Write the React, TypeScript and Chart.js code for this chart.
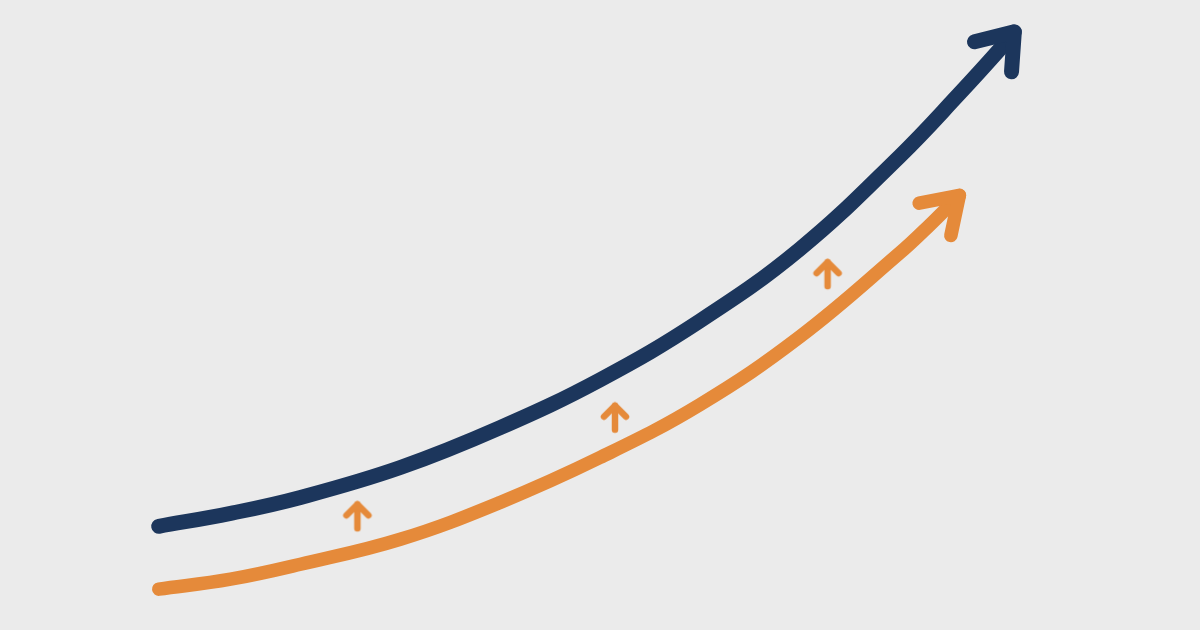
import React, { useEffect, useRef } from "react";
import { Chart, registerables } from "chart.js";

Chart.register(...registerables);

// Upper (navy) growth curve
const upperX = [158, 230, 300, 400, 500, 600, 700, 800, 900, 960, 1000, 1015];
const upperY = [103, 116, 132, 162, 202, 250, 309, 381, 474, 537, 581, 599];

// Lower (orange) growth curve
const lowerX = [158, 230, 300, 400, 500, 600, 700, 800, 900, 930, 960];
const lowerY = [40, 50, 65, 90, 127, 172, 225, 293, 377, 405, 435];

// Small "increase" markers between the curves
const markerX = [357, 615, 828];
const markerY = [113, 212, 356];

const NAVY = "#1c365c";
const ORANGE = "#e58a3a";
const BG = "#ebebeb";

const W = 1200;
const H = 630;

function makeUpArrow(color: string): HTMLCanvasElement {
  const c = document.createElement("canvas");
  c.width = 36;
  c.height = 36;
  const g = c.getContext("2d")!;
  g.strokeStyle = color;
  g.lineWidth = 6.5;
  g.lineCap = "round";
  g.lineJoin = "round";
  g.beginPath();
  g.moveTo(18, 30);
  g.lineTo(18, 6);
  g.stroke();
  g.beginPath();
  g.moveTo(7, 17);
  g.lineTo(18, 6);
  g.lineTo(29, 17);
  g.stroke();
  return c;
}

const arrowHeadPlugin = {
  id: "arrowHead",
  afterDatasetsDraw(chart: any) {
    const ctx = chart.ctx;
    chart.data.datasets.forEach((ds: any, i: number) => {
      if (!ds.arrowHead) return;
      const meta = chart.getDatasetMeta(i);
      const pts = meta.data;
      if (!pts.length) return;
      const tip = pts[pts.length - 1];
      const h = ds.arrowHead;
      const a1 = (h.angle1 * Math.PI) / 180;
      const a2 = (h.angle2 * Math.PI) / 180;
      ctx.save();
      ctx.strokeStyle = ds.borderColor;
      ctx.lineWidth = ds.borderWidth;
      ctx.lineCap = "round";
      ctx.lineJoin = "round";
      ctx.beginPath();
      ctx.moveTo(tip.x + h.len1 * Math.cos(a1), tip.y + h.len1 * Math.sin(a1));
      ctx.lineTo(tip.x, tip.y);
      ctx.lineTo(tip.x + h.len2 * Math.cos(a2), tip.y + h.len2 * Math.sin(a2));
      ctx.stroke();
      ctx.restore();
    });
  },
};

export default function App() {
  const ref = useRef<HTMLCanvasElement | null>(null);

  useEffect(() => {
    if (!ref.current) return;
    const marker = makeUpArrow(ORANGE);
    const chart = new Chart(ref.current, {
      type: "line",
      data: {
        datasets: [
          {
            label: "Upper",
            data: upperX.map((x, i) => ({ x, y: upperY[i] })),
            borderColor: NAVY,
            borderWidth: 15,
            borderCapStyle: "round",
            borderJoinStyle: "round",
            tension: 0.4,
            pointRadius: 0,
            fill: false,
            clip: false,
            arrowHead: { angle1: 166, len1: 41, angle2: 94, len2: 40 },
          } as any,
          {
            label: "Lower",
            data: lowerX.map((x, i) => ({ x, y: lowerY[i] })),
            borderColor: ORANGE,
            borderWidth: 13.5,
            borderCapStyle: "round",
            borderJoinStyle: "round",
            tension: 0.4,
            pointRadius: 0,
            fill: false,
            clip: false,
            arrowHead: { angle1: 169, len1: 41, angle2: 102, len2: 41 },
          } as any,
          {
            label: "Markers",
            data: markerX.map((x, i) => ({ x, y: markerY[i] })),
            showLine: false,
            pointStyle: marker,
            pointRadius: 1,
            pointBorderWidth: 0,
            pointHoverRadius: 1,
            borderWidth: 0,
            borderColor: ORANGE,
            backgroundColor: ORANGE,
            clip: false,
          } as any,
        ],
      },
      options: {
        animation: false,
        responsive: false,
        devicePixelRatio: 1,
        layout: { padding: 0 },
        scales: {
          x: { type: "linear", min: 0, max: W, display: false },
          y: { type: "linear", min: 0, max: H, display: false },
        },
        plugins: {
          legend: { display: false },
          tooltip: { enabled: false },
        },
        events: [],
      },
      plugins: [arrowHeadPlugin],
    });
    return () => chart.destroy();
  }, []);

  return (
    <div
      style={{
        position: "fixed",
        left: 0,
        top: 0,
        width: W,
        height: H,
        background: BG,
        overflow: "hidden",
      }}
    >
      <canvas
        ref={ref}
        width={W}
        height={H}
        style={{ display: "block", width: W, height: H }}
      />
    </div>
  );
}
